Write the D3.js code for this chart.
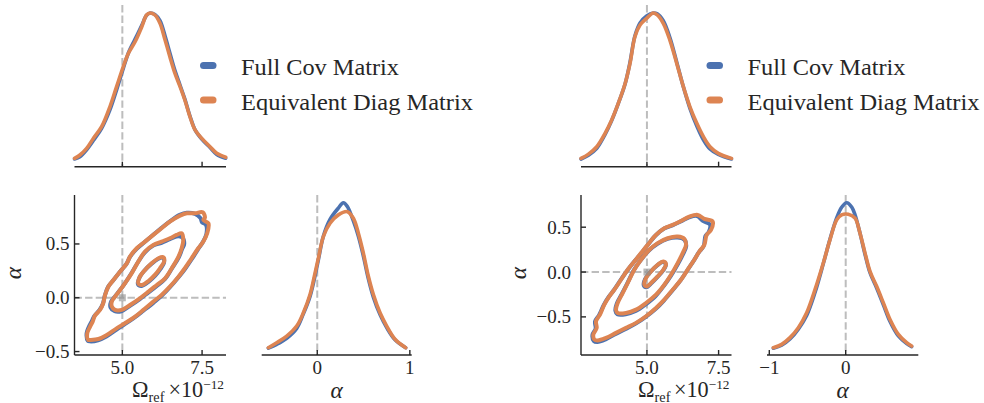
<!DOCTYPE html>
<html>
<head>
<meta charset="utf-8">
<script src="https://cdn.jsdelivr.net/npm/d3@7"></script>
<style>
  body { margin: 0; background: #fff; }
  svg { display: block; }
  text { fill: #262626; }
</style>
</head>
<body>
<svg id="chart" width="984" height="403"></svg>
<script>
// ---------------- data ----------------
const seriesNames = ["Full Cov Matrix", "Equivalent Diag Matrix"];
const seriesColors = ["#4c72b0", "#dd8452"];

const omegaTicks = [5.0, 7.5];
const omegaTickLabels = ["5.0", "7.5"];
const alpha2DTicks = [-0.5, 0.0, 0.5];
const alpha2DTickLabels = ["\u22120.5", "0.0", "0.5"];
const alphaTicksLeft = [0, 1];
const alphaTickLabelsLeft = ["0", "1"];
const alphaTicksRight = [-1, 0];
const alphaTickLabelsRight = ["\u22121", "0"];
const truthOmega = 5.0;
const truthAlpha = 0.0;

// Marginal of Omega_ref (x 1e-12), left set: [omega, normalised density]
const omegaFullLeft = [[3.5,0.05],[3.67,0.065],[3.88,0.11],[4.09,0.17],[4.35,0.25],[4.61,0.37],[4.82,0.50],[5.03,0.64],[5.19,0.74],[5.40,0.83],[5.61,0.92],[5.76,0.985],[5.87,1.0],[6.02,0.99],[6.18,0.95],[6.34,0.85],[6.49,0.74],[6.65,0.625],[6.81,0.53],[6.96,0.44],[7.12,0.33],[7.28,0.24],[7.49,0.18],[7.75,0.125],[7.96,0.08],[8.24,0.055]];
const omegaDiagLeft = [[3.5,0.054],[3.67,0.076],[3.88,0.119],[4.09,0.184],[4.35,0.26],[4.61,0.39],[4.82,0.521],[5.03,0.651],[5.19,0.738],[5.40,0.813],[5.61,0.911],[5.76,0.987],[5.87,1.0],[6.02,0.987],[6.18,0.933],[6.34,0.824],[6.49,0.716],[6.65,0.607],[6.81,0.521],[6.96,0.434],[7.12,0.325],[7.28,0.239],[7.49,0.184],[7.75,0.13],[7.96,0.087],[8.24,0.061]];

// Marginal of alpha, left set
const alphaFullLeft = [[-0.528,0.045],[-0.438,0.07],[-0.33,0.11],[-0.222,0.175],[-0.15,0.27],[-0.078,0.385],[-0.024,0.52],[0.012,0.625],[0.066,0.78],[0.138,0.89],[0.228,0.965],[0.282,1.0],[0.325,0.975],[0.39,0.88],[0.444,0.78],[0.498,0.65],[0.552,0.5],[0.606,0.38],[0.678,0.265],[0.75,0.18],[0.84,0.1],[0.955,0.048]];
const alphaDiagLeft = [[-0.528,0.048],[-0.438,0.081],[-0.33,0.124],[-0.222,0.19],[-0.15,0.277],[-0.078,0.397],[-0.024,0.538],[0.012,0.636],[0.066,0.778],[0.138,0.865],[0.228,0.92],[0.325,0.941],[0.39,0.898],[0.444,0.80],[0.498,0.669],[0.552,0.517],[0.606,0.397],[0.678,0.277],[0.75,0.19],[0.84,0.103],[0.955,0.048]];

// Joint credible contours, left set: [omega, alpha]
const contourFullLeft = [
  [[3.92,-0.40],[3.88,-0.33],[3.95,-0.27],[4.04,-0.22],[4.12,-0.17],[4.28,-0.115],[4.39,-0.055],[4.45,0.02],[4.55,0.10],[4.71,0.16],[4.92,0.24],[5.13,0.315],[5.24,0.38],[5.45,0.455],[5.71,0.52],[5.97,0.585],[6.23,0.65],[6.49,0.71],[6.80,0.77],[7.02,0.79],[7.28,0.78],[7.45,0.74],[7.50,0.70],[7.62,0.68],[7.64,0.60],[7.53,0.52],[7.38,0.455],[7.18,0.36],[6.97,0.27],[6.76,0.19],[6.50,0.10],[6.24,0.02],[5.98,-0.045],[5.66,-0.12],[5.40,-0.18],[5.08,-0.245],[4.82,-0.295],[4.50,-0.36],[4.24,-0.395],[3.98,-0.405]],
  [[4.63,-0.09],[4.64,-0.04],[4.75,0.005],[4.91,0.066],[5.07,0.13],[5.28,0.225],[5.49,0.33],[5.70,0.42],[5.97,0.485],[6.23,0.51],[6.49,0.545],[6.70,0.57],[6.88,0.56],[6.94,0.50],[6.87,0.45],[6.77,0.375],[6.55,0.27],[6.34,0.175],[6.08,0.11],[5.82,0.05],[5.55,-0.012],[5.24,-0.075],[4.97,-0.125],[4.76,-0.125]],
  [[5.49,0.125],[5.54,0.19],[5.70,0.255],[5.91,0.315],[6.12,0.36],[6.28,0.37],[6.31,0.33],[6.19,0.265],[6.03,0.205],[5.82,0.148],[5.61,0.11]]
];
const contourDiagLeft = [
  [[3.93,-0.392],[3.90,-0.330],[3.99,-0.268],[4.07,-0.222],[4.14,-0.166],[4.30,-0.113],[4.40,-0.051],[4.46,0.026],[4.56,0.103],[4.72,0.165],[4.93,0.243],[5.14,0.320],[5.24,0.382],[5.45,0.460],[5.71,0.522],[5.97,0.584],[6.23,0.646],[6.49,0.708],[6.81,0.763],[7.02,0.785],[7.28,0.785],[7.52,0.794],[7.59,0.745],[7.54,0.723],[7.70,0.692],[7.66,0.599],[7.54,0.522],[7.38,0.460],[7.17,0.367],[6.96,0.274],[6.76,0.196],[6.49,0.103],[6.23,0.026],[5.97,-0.036],[5.66,-0.113],[5.40,-0.175],[5.08,-0.237],[4.82,-0.284],[4.51,-0.346],[4.25,-0.383],[3.99,-0.392]],
  [[4.67,-0.082],[4.67,-0.036],[4.77,0.011],[4.93,0.072],[5.08,0.134],[5.29,0.227],[5.50,0.336],[5.71,0.429],[5.97,0.491],[6.23,0.522],[6.49,0.553],[6.70,0.584],[6.86,0.599],[6.91,0.537],[6.86,0.460],[6.76,0.382],[6.55,0.274],[6.34,0.181],[6.08,0.119],[5.82,0.057],[5.55,-0.005],[5.24,-0.067],[4.98,-0.113],[4.77,-0.113]],
  [[5.50,0.134],[5.55,0.196],[5.71,0.258],[5.92,0.320],[6.13,0.367],[6.29,0.376],[6.31,0.336],[6.18,0.274],[6.02,0.212],[5.82,0.156],[5.61,0.119]]
];

// Marginal of Omega_ref, right set
const omegaFullRight = [[2.7,0.05],[2.96,0.075],[3.25,0.12],[3.54,0.21],[3.77,0.30],[4.0,0.41],[4.24,0.54],[4.41,0.68],[4.58,0.85],[4.76,0.935],[4.99,0.98],[5.22,1.0],[5.36,0.995],[5.57,0.95],[5.80,0.84],[6.04,0.68],[6.27,0.52],[6.50,0.38],[6.74,0.265],[6.97,0.175],[7.20,0.115],[7.49,0.08],[7.95,0.05]];
const omegaDiagRight = [[2.7,0.054],[2.96,0.082],[3.25,0.13],[3.54,0.217],[3.77,0.304],[4.0,0.412],[4.24,0.542],[4.41,0.672],[4.58,0.846],[4.76,0.922],[4.99,0.965],[5.22,1.0],[5.36,0.987],[5.57,0.933],[5.80,0.824],[6.04,0.672],[6.27,0.521],[6.50,0.39],[6.74,0.282],[6.97,0.195],[7.20,0.13],[7.49,0.087],[7.95,0.054]];

// Marginal of alpha, right set
const alphaFullRight = [[-0.947,0.045],[-0.838,0.065],[-0.729,0.105],[-0.62,0.17],[-0.511,0.26],[-0.402,0.41],[-0.293,0.60],[-0.206,0.76],[-0.118,0.90],[-0.053,0.97],[0.014,1.0],[0.08,0.97],[0.122,0.92],[0.187,0.80],[0.253,0.66],[0.318,0.54],[0.405,0.44],[0.493,0.33],[0.58,0.22],[0.689,0.125],[0.798,0.075],[0.863,0.055]];
const alphaDiagRight = [[-0.947,0.048],[-0.838,0.07],[-0.729,0.114],[-0.62,0.179],[-0.511,0.277],[-0.402,0.429],[-0.293,0.604],[-0.206,0.756],[-0.118,0.887],[-0.053,0.92],[0.034,0.924],[0.122,0.898],[0.187,0.80],[0.253,0.669],[0.318,0.549],[0.405,0.451],[0.493,0.342],[0.58,0.233],[0.689,0.135],[0.798,0.081],[0.863,0.059]];

// Joint credible contours, right set
const contourFullRight = [
  [[3.15,-0.77],[3.10,-0.70],[3.21,-0.63],[3.19,-0.55],[3.33,-0.48],[3.49,-0.37],[3.67,-0.275],[3.85,-0.20],[4.08,-0.09],[4.32,0.02],[4.55,0.115],[4.79,0.205],[5.02,0.30],[5.31,0.41],[5.60,0.485],[5.89,0.52],[6.18,0.565],[6.47,0.61],[6.75,0.625],[6.95,0.57],[7.20,0.53],[7.16,0.45],[7.04,0.40],[6.98,0.29],[6.81,0.22],[6.64,0.13],[6.41,0.02],[6.18,-0.09],[5.89,-0.205],[5.60,-0.315],[5.31,-0.41],[4.96,-0.50],[4.61,-0.575],[4.26,-0.635],[3.91,-0.69],[3.56,-0.75],[3.27,-0.78]],
  [[3.90,-0.43],[3.95,-0.35],[4.13,-0.24],[4.31,-0.13],[4.54,0.02],[4.78,0.13],[5.07,0.24],[5.37,0.315],[5.72,0.37],[6.07,0.385],[6.31,0.36],[6.37,0.29],[6.26,0.20],[6.08,0.09],[5.84,-0.04],[5.60,-0.15],[5.31,-0.265],[4.96,-0.36],[4.61,-0.435],[4.26,-0.47],[3.97,-0.47]],
  [[4.89,-0.15],[4.94,-0.075],[5.12,0.0],[5.36,0.075],[5.56,0.112],[5.66,0.083],[5.57,0.02],[5.37,-0.055],[5.17,-0.12],[4.98,-0.17]]
];
const contourDiagRight = [
  [[3.165,-0.752],[3.13,-0.697],[3.247,-0.623],[3.223,-0.549],[3.363,-0.474],[3.514,-0.363],[3.688,-0.271],[3.863,-0.197],[4.095,-0.086],[4.328,0.026],[4.56,0.118],[4.793,0.211],[5.026,0.303],[5.316,0.414],[5.607,0.489],[5.898,0.526],[6.188,0.57],[6.479,0.618],[6.77,0.637],[7.002,0.592],[7.293,0.563],[7.235,0.47],[7.084,0.414],[7.002,0.303],[6.828,0.229],[6.653,0.137],[6.421,0.026],[6.188,-0.086],[5.898,-0.197],[5.607,-0.308],[5.316,-0.40],[4.967,-0.493],[4.619,-0.567],[4.27,-0.623],[3.921,-0.678],[3.572,-0.734],[3.281,-0.763]],
  [[3.921,-0.419],[3.979,-0.345],[4.153,-0.234],[4.328,-0.123],[4.56,0.026],[4.793,0.137],[5.084,0.248],[5.374,0.322],[5.723,0.377],[6.072,0.396],[6.305,0.37],[6.363,0.303],[6.247,0.211],[6.072,0.10],[5.84,-0.03],[5.607,-0.141],[5.316,-0.252],[4.967,-0.345],[4.619,-0.419],[4.27,-0.456],[3.979,-0.456]],
  [[4.909,-0.141],[4.967,-0.067],[5.142,0.007],[5.374,0.081],[5.572,0.118],[5.665,0.089],[5.572,0.026],[5.374,-0.049],[5.177,-0.111],[4.991,-0.16]]
];

// ---------------- fonts ----------------
// pick the first installed serif face; sizes are then tuned to its metrics
const measureCtx = document.createElement("canvas").getContext("2d");
function textWidth(font, str) { measureCtx.font = font; return measureCtx.measureText(str).width; }
function installed(name) {
  const s = "Equivalent Diag Matrix 0.5 \u03A9";
  return textWidth("40px monospace", s) !== textWidth(`40px '${name}', monospace`, s) ||
         textWidth("40px sans-serif", s) !== textWidth(`40px '${name}', sans-serif`, s);
}
const serifFace = ["Liberation Serif", "DejaVu Serif", "Noto Serif", "Times New Roman"].find(installed);
const FONT = serifFace ? `'${serifFace}', serif` : "serif";
// tick labels: "5.0" is about 24 px wide
const tickSize = Math.min(19, 24 / (textWidth(`100px ${FONT}`, "5.0") / 100));
const labelSize = tickSize * 1.17;

// ---------------- drawing ----------------
const svg = d3.select("#chart").style("font-family", FONT);
const AXIS = "#262626";
const GUIDE = "#bdbdbd";

const corners = [
  {
    omegaDomain: [3.5, 8.25], omegaRange: [74.5, 226],
    alphaDomain: [-0.532, 0.955],
    alphaMargDomain: [-0.6, 1.02], alphaMargRange: [261.7, 411.7],
    alphaTicks: alphaTicksLeft, alphaTickLabels: alphaTickLabelsLeft,
    omegaMarg: [omegaFullLeft, omegaDiagLeft],
    alphaMarg: [alphaFullLeft, alphaDiagLeft],
    contours: [contourFullLeft, contourDiagLeft],
    ylabelX: 15, ytickGap: 5, legendX: 200
  },
  {
    omegaDomain: [2.7, 7.95], omegaRange: [581, 731.5],
    alphaDomain: [-0.925, 0.859],
    alphaMargDomain: [-1.03, 0.95], alphaMargRange: [767, 918.3],
    alphaTicks: alphaTicksRight, alphaTickLabels: alphaTickLabelsRight,
    omegaMarg: [omegaFullRight, omegaDiagRight],
    alphaMarg: [alphaFullRight, alphaDiagRight],
    contours: [contourFullRight, contourDiagRight],
    ylabelX: 520, ytickGap: 10, legendX: 706.5
  }
];

const topAxisY = 166.7, topPeakY = 13, topGuideY = 5;
const botAxisY = 355, botTopY = 195, botPeakY = 202.7;
const tickLen = 5;

function hAxis(g, scale, y, ticks, labels) {
  const [x0, x1] = scale.range();
  g.append("line").attr("x1", x0).attr("x2", x1).attr("y1", y).attr("y2", y)
    .attr("stroke", AXIS).attr("stroke-width", 1.4);
  ticks.forEach((t, i) => {
    g.append("line").attr("x1", scale(t)).attr("x2", scale(t))
      .attr("y1", y).attr("y2", y - tickLen).attr("stroke", AXIS).attr("stroke-width", 1.4);
    if (labels) {
      g.append("text").attr("x", scale(t)).attr("y", 374).attr("text-anchor", "middle")
        .style("font-size", tickSize + "px").text(labels[i]);
    }
  });
}

function guide(g, x1, y1, x2, y2) {
  g.append("line").attr("x1", x1).attr("y1", y1).attr("x2", x2).attr("y2", y2)
    .attr("stroke", GUIDE).attr("stroke-width", 2).attr("stroke-dasharray", "7.4,3.2");
}

corners.forEach(c => {
  const g = svg.append("g");
  const xO = d3.scaleLinear(c.omegaDomain, c.omegaRange);
  const yA = d3.scaleLinear(c.alphaDomain, [botAxisY, botTopY]);
  const xA = d3.scaleLinear(c.alphaMargDomain, c.alphaMargRange);
  const yTop = d3.scaleLinear([0, 1], [topAxisY, topPeakY]);
  const yBot = d3.scaleLinear([0, 1], [botAxisY, botPeakY]);

  // --- Omega marginal (top) ---
  guide(g, xO(truthOmega), topGuideY, xO(truthOmega), topAxisY);
  const lineTop = d3.line().x(d => xO(d[0])).y(d => yTop(d[1])).curve(d3.curveCatmullRom.alpha(0.5));
  c.omegaMarg.forEach((s, i) => {
    g.append("path").attr("d", lineTop(s)).attr("fill", "none")
      .attr("stroke", seriesColors[i]).attr("stroke-width", 3.6)
      .attr("stroke-linejoin", "round").attr("stroke-linecap", "round");
  });
  hAxis(g, xO, topAxisY, omegaTicks, null);

  // --- joint contours ---
  guide(g, xO(truthOmega), botTopY, xO(truthOmega), botAxisY);
  guide(g, c.omegaRange[0], yA(truthAlpha), c.omegaRange[1], yA(truthAlpha));
  const lineC = d3.line().x(d => xO(d[0])).y(d => yA(d[1])).curve(d3.curveCatmullRomClosed.alpha(0.5));
  c.contours.forEach((levels, i) => {
    levels.forEach(ring => {
      g.append("path").attr("d", lineC(ring)).attr("fill", "none")
        .attr("stroke", seriesColors[i]).attr("stroke-width", 4)
        .attr("stroke-linejoin", "round");
    });
  });
  g.append("rect").attr("x", xO(truthOmega) - 3.5).attr("y", yA(truthAlpha) - 3.5)
    .attr("width", 7).attr("height", 7).attr("fill", "#8c8c8c").attr("opacity", 0.6);
  // left spine with inward ticks
  g.append("line").attr("x1", c.omegaRange[0]).attr("x2", c.omegaRange[0])
    .attr("y1", botTopY).attr("y2", botAxisY).attr("stroke", AXIS).attr("stroke-width", 1.4);
  alpha2DTicks.forEach((t, i) => {
    g.append("line").attr("x1", c.omegaRange[0]).attr("x2", c.omegaRange[0] + tickLen)
      .attr("y1", yA(t)).attr("y2", yA(t)).attr("stroke", AXIS).attr("stroke-width", 1.4);
    g.append("text").attr("x", c.omegaRange[0] - c.ytickGap).attr("y", yA(t))
      .attr("dy", "0.34em").attr("text-anchor", "end").style("font-size", tickSize + "px")
      .text(alpha2DTickLabels[i]);
  });
  hAxis(g, xO, botAxisY, omegaTicks, omegaTickLabels);
  // x label plus scale offset text
  const midO = (c.omegaRange[0] + c.omegaRange[1]) / 2;
  const xl = g.append("text").attr("x", midO - 2).attr("y", 396.5).attr("text-anchor", "middle")
    .style("font-size", labelSize + "px");
  xl.append("tspan").text("\u03A9");
  xl.append("tspan").attr("dy", 5).style("font-size", (labelSize * 0.64) + "px").text("ref");
  const off = g.append("text").attr("x", c.omegaRange[1] - 2).attr("y", 396.5)
    .attr("text-anchor", "end").style("font-size", labelSize + "px");
  off.append("tspan").text("\u00D710");
  off.append("tspan").attr("dy", -7.5).style("font-size", (labelSize * 0.6) + "px").text("\u221212");
  // y label
  g.append("text").attr("transform", `translate(${c.ylabelX + 6},${(botTopY + botAxisY) / 2 - 2}) rotate(-90)`)
    .attr("text-anchor", "middle").style("font-size", (labelSize * 1.05) + "px").style("font-style", "italic")
    .text("\u03B1");

  // --- alpha marginal ---
  guide(g, xA(truthAlpha), botTopY, xA(truthAlpha), botAxisY);
  const lineA = d3.line().x(d => xA(d[0])).y(d => yBot(d[1])).curve(d3.curveCatmullRom.alpha(0.5));
  c.alphaMarg.forEach((s, i) => {
    g.append("path").attr("d", lineA(s)).attr("fill", "none")
      .attr("stroke", seriesColors[i]).attr("stroke-width", 3.6)
      .attr("stroke-linejoin", "round").attr("stroke-linecap", "round");
  });
  hAxis(g, xA, botAxisY, c.alphaTicks, c.alphaTickLabels);
  g.append("text").attr("x", (c.alphaMargRange[0] + c.alphaMargRange[1]) / 2).attr("y", 398)
    .attr("text-anchor", "middle").style("font-size", (labelSize * 1.05) + "px").style("font-style", "italic")
    .text("\u03B1");

  // --- legend ---
  const legendWidths = [158, 232];
  seriesNames.forEach((name, i) => {
    const y = 65.5 + i * 34.5;
    g.append("line").attr("x1", c.legendX + 3.5).attr("x2", c.legendX + 13)
      .attr("y1", y).attr("y2", y).attr("stroke", seriesColors[i])
      .attr("stroke-width", 7).attr("stroke-linecap", "round");
    g.append("text").attr("x", c.legendX + 41).attr("y", y + 9.5)
      .style("font-size", (labelSize * 1.08) + "px").attr("textLength", legendWidths[i])
      .attr("lengthAdjust", "spacingAndGlyphs").text(name);
  });
});
</script>
</body>
</html>
